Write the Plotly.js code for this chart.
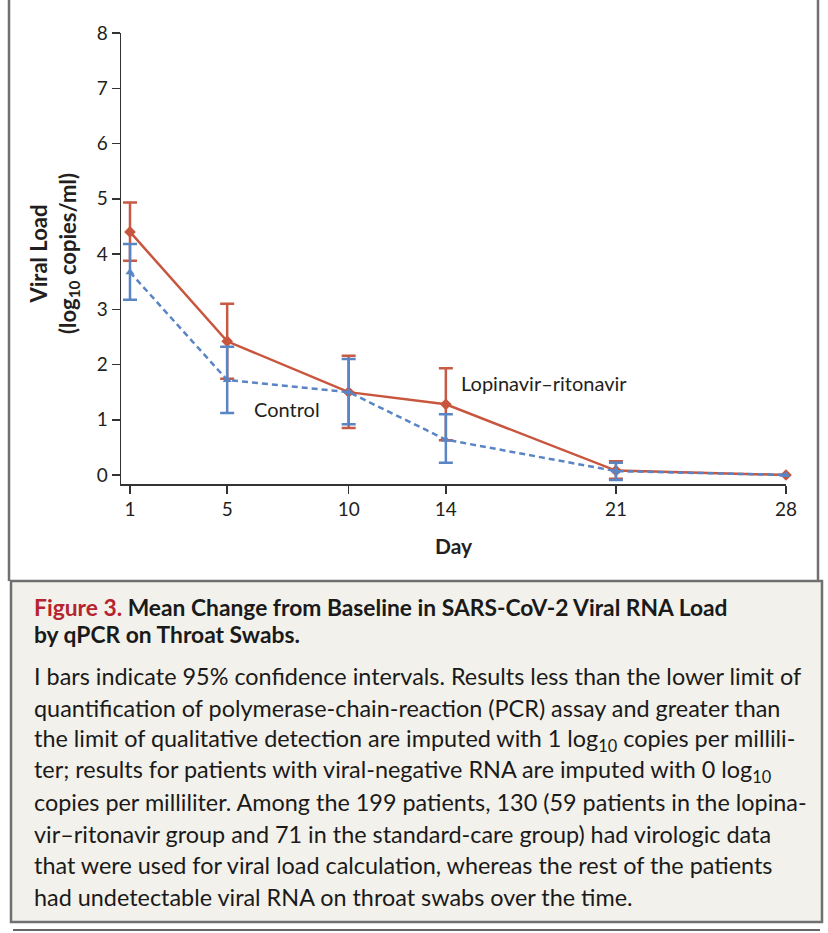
<!DOCTYPE html>
<html>
<head>
<meta charset="utf-8">
<script src="https://cdn.plot.ly/plotly-3.0.1.min.js"></script>
<style>
html,body{margin:0;padding:0;background:#fff;}
#chart{width:828px;height:933px;}
</style>
</head>
<body>
<div id="chart"></div>
<script>
// ---- data ----
const days = [1, 5, 10, 14, 21, 28];
const xTickLabels = ["1", "5", "10", "14", "21", "28"];
const yTickVals = [0, 1, 2, 3, 4, 5, 6, 7, 8];

const lpvMean  = [4.40, 2.42, 1.50, 1.28, 0.08, 0.00];
const lpvUpper = [4.93, 3.10, 2.16, 1.93, 0.25, 0.00];
const lpvLower = [3.88, 1.74, 0.85, 0.63, -0.07, 0.00];

const ctlMean  = [3.67, 1.72, 1.50, 0.64, 0.07, 0.00];
const ctlUpper = [4.18, 2.32, 2.10, 1.10, 0.22, 0.00];
const ctlLower = [3.17, 1.12, 0.92, 0.22, -0.09, 0.00];

const seriesNames = ["Lopinavir\u2013ritonavir", "Control"];
const xTitle = "Day";
const yTitleLines = ["Viral Load", "(log<sub>10</sub> copies/ml)"];

const captionTitle = [
  "<span style='color:#b5252f'>Figure 3.</span> Mean Change from Baseline in SARS-CoV-2 Viral RNA Load",
  "by qPCR on Throat Swabs."
];
const captionBody = [
  "I bars indicate 95% confidence intervals. Results less than the lower limit of",
  "quantification of polymerase-chain-reaction (PCR) assay and greater than",
  "the limit of qualitative detection are imputed with 1 log<sub>10</sub> copies per millili-",
  "ter; results for patients with viral-negative RNA are imputed with 0 log<sub>10</sub>",
  "copies per milliliter. Among the 199 patients, 130 (59 patients in the lopina-",
  "vir\u2013ritonavir group and 71 in the standard-care group) had virologic data",
  "that were used for viral load calculation, whereas the rest of the patients",
  "had undetectable viral RNA on throat swabs over the time."
];

// ---- geometry helpers (pixel -> paper) ----
const W = 828, H = 933;
const PL = 121, PR = 786, PT = 33, PB = 484;
const px = v => (v - PL) / (PR - PL);
const py = v => (PB - v) / (PB - PT);

const RED = "#c8553d", BLUE = "#5a85c5";
const FONT = "Lato, 'Open Sans', sans-serif";
const TXT = "#231f20";

const diff = (a, b) => a.map((v, i) => +(v - b[i]).toFixed(3));

const traces = [
  {
    x: days, y: lpvMean, name: seriesNames[0], type: "scatter", mode: "lines+markers",
    line: {color: RED, width: 2.5},
    marker: {symbol: "diamond", size: 9, color: RED},
    error_y: {type: "data", symmetric: false, array: diff(lpvUpper, lpvMean),
              arrayminus: diff(lpvMean, lpvLower), color: "#c65a45", thickness: 2.5, width: 7},
    cliponaxis: false
  },
  {
    x: days, y: ctlMean, name: seriesNames[1], type: "scatter", mode: "lines+markers",
    line: {color: BLUE, width: 2.5, dash: "6px,4px"},
    marker: {symbol: "triangle-up", size: 8, color: BLUE},
    error_y: {type: "data", symmetric: false, array: diff(ctlUpper, ctlMean),
              arrayminus: diff(ctlMean, ctlLower), color: BLUE, thickness: 2.5, width: 7},
    cliponaxis: false
  }
];

const annotations = [];
// series labels
annotations.push({x: 6.03, y: 1.19, xref: "x", yref: "y", text: seriesNames[1], showarrow: false,
  xanchor: "left", yanchor: "middle", font: {family: FONT, size: 20, color: TXT}});
annotations.push({x: 14.56, y: 1.66, xref: "x", yref: "y", text: seriesNames[0], showarrow: false,
  xanchor: "left", yanchor: "middle", font: {family: FONT, size: 20, color: TXT}});
// y title (rotated)
annotations.push({x: px(54), y: py(254), xref: "paper", yref: "paper", textangle: -90,
  text: "<b>" + yTitleLines[0] + "</b><br><b>" + yTitleLines[1] + "</b>", showarrow: false,
  xanchor: "center", yanchor: "middle", align: "center",
  font: {family: FONT, size: 22, color: TXT}});
// caption title
const titleY = [607, 634];
captionTitle.forEach((t, i) => annotations.push({x: px(32), y: py(titleY[i]), xref: "paper", yref: "paper",
  text: "<b>" + t + "</b>", showarrow: false, xanchor: "left", yanchor: "middle", align: "left",
  font: {family: FONT, size: 22.8, color: "#1a1a1a"}}));
// caption body
captionBody.forEach((t, i) => annotations.push({x: px(32), y: py(676 + i * 31.5), xref: "paper", yref: "paper",
  text: t, showarrow: false, xanchor: "left", yanchor: "middle", align: "left",
  font: {family: FONT, size: 23.4, color: "#1a1a1a"}}));

const shapes = [
  // caption box
  {type: "rect", xref: "paper", yref: "paper", x0: px(11), x1: px(822), y0: py(922), y1: py(581),
   fillcolor: "#f3f1eb", line: {color: "#707070", width: 2.5}, layer: "below"},
  // upper panel borders
  {type: "line", xref: "paper", yref: "paper", x0: px(9), x1: px(9), y0: py(0), y1: py(581),
   line: {color: "#707070", width: 2.5}},
  {type: "line", xref: "paper", yref: "paper", x0: px(818), x1: px(818), y0: py(0), y1: py(581),
   line: {color: "#707070", width: 2.5}},
  // bottom rule
  {type: "line", xref: "paper", yref: "paper", x0: px(13), x1: px(820), y0: py(930), y1: py(930),
   line: {color: "#333", width: 1.5}}
];

const layout = {
  width: W, height: H,
  margin: {l: PL, r: W - PR, t: PT, b: H - PB, pad: 0},
  paper_bgcolor: "#fff", plot_bgcolor: "rgba(0,0,0,0)",
  showlegend: false,
  font: {family: FONT, color: TXT},
  xaxis: {
    range: [0.63, 28], tickvals: days, ticktext: xTickLabels,
    showgrid: false, zeroline: false, showline: true, linecolor: "#333", linewidth: 1.5,
    ticks: "outside", ticklen: 8, tickwidth: 1.5, tickcolor: "#333",
    tickfont: {family: FONT, size: 19, color: TXT},
    title: {text: "<b>" + xTitle + "</b>", font: {family: FONT, size: 21, color: TXT}, standoff: 20},
    fixedrange: true
  },
  yaxis: {
    range: [-0.163, 8], tickvals: yTickVals,
    showgrid: false, zeroline: false, showline: true, linecolor: "#333", linewidth: 1.5,
    ticks: "outside", ticklen: 8, tickwidth: 1.5, tickcolor: "#333",
    tickfont: {family: FONT, size: 19, color: TXT},
    fixedrange: true
  },
  shapes: shapes,
  annotations: annotations
};

Plotly.newPlot("chart", traces, layout, {displayModeBar: false, staticPlot: true});
</script>
</body>
</html>
